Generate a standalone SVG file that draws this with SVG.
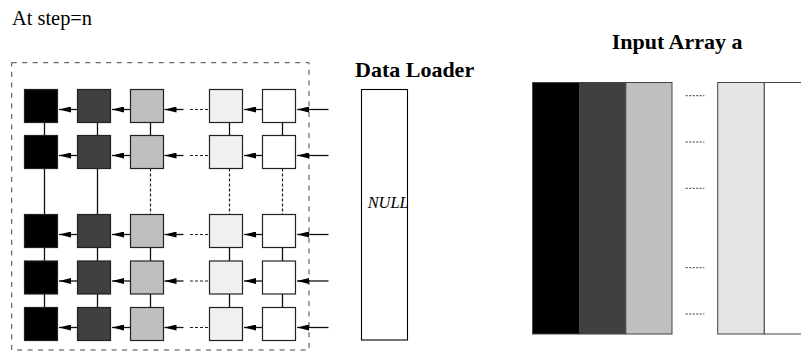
<svg xmlns="http://www.w3.org/2000/svg" width="801" height="360" viewBox="0 0 801 360">
<style>
text{font-family:"Liberation Serif","Times New Roman",serif;fill:#000}
.t{font-size:20.4px}
.b{font-size:22px;font-weight:bold}
.i{font-size:16.4px;font-style:italic}
.sq{stroke:#222;stroke-width:1.2}
.c1{fill:#000}.c2{fill:#404040}.c3{fill:#bfbfbf}.c4{fill:#f0f0f0}.c5{fill:#fff}
.v{stroke:#111;stroke-width:1.3;fill:none}
.vd{stroke:#222;stroke-width:1.2;stroke-dasharray:3,2;fill:none}
.h{stroke:#111;stroke-width:1.3;fill:none;marker-end:url(#ah)}
.hd{stroke:#222;stroke-width:1.2;stroke-dasharray:3,2;fill:none}
.ar{stroke:#444;stroke-width:1}
.dots{stroke:#333;stroke-width:1;stroke-dasharray:2,1.5}
</style>
<defs>
<marker id="ah" viewBox="0 0 12 6" refX="12" refY="3" markerWidth="12" markerHeight="6" markerUnits="userSpaceOnUse" orient="auto">
<path d="M0,0 L12,3 L0,6 Z" fill="#000"/>
</marker>
</defs>
<text class="t" x="12" y="25">At step=n</text>
<rect id="boundary" x="11.7" y="62.7" width="297.3" height="287.3" fill="none" stroke="#444" stroke-width="1" stroke-dasharray="5,5.5"/>
<g id="connectors">
<!-- vertical solid between row1-row2 -->
<path class="v" d="M44.5,122.5V135.5M97.5,122.5V135.5M150.5,122.5V135.5M229.5,122.5V135.5M282.5,122.5V135.5"/>
<!-- row2-row3 -->
<path class="v" d="M44.5,168.5V214.5M97.5,168.5V214.5"/>
<path class="vd" d="M150.5,168.5V214.5M229.5,168.5V214.5M282.5,168.5V214.5"/>
<!-- row3-row4, row4-row5 -->
<path class="v" d="M44.5,247.5V261M97.5,247.5V261M150.5,247.5V261M229.5,247.5V261M282.5,247.5V261"/>
<path class="v" d="M44.5,294V307.5M97.5,294V307.5M150.5,294V307.5M229.5,294V307.5M282.5,294V307.5"/>
<!-- horizontal arrows per row -->
<g id="row-arrows">
<path class="h" d="M77.5,109.5H59"/><path class="h" d="M130.5,109.5H112"/><path class="h" d="M183.5,109.5H164.5"/><path class="hd" d="M190,109.5H209.5"/><path class="h" d="M262.5,109.5H244"/><path class="h" d="M328.5,109.5H297"/>
<path class="h" d="M77.5,155.5H59"/><path class="h" d="M130.5,155.5H112"/><path class="h" d="M183.5,155.5H164.5"/><path class="hd" d="M190,155.5H209.5"/><path class="h" d="M262.5,155.5H244"/><path class="h" d="M328.5,155.5H297"/>
<path class="h" d="M77.5,234.5H59"/><path class="h" d="M130.5,234.5H112"/><path class="h" d="M183.5,234.5H164.5"/><path class="hd" d="M190,234.5H209.5"/><path class="h" d="M262.5,234.5H244"/><path class="h" d="M328.5,234.5H297"/>
<path class="h" d="M77.5,281H59"/><path class="h" d="M130.5,281H112"/><path class="h" d="M183.5,281H164.5"/><path class="hd" d="M190,281H209.5"/><path class="h" d="M262.5,281H244"/><path class="h" d="M328.5,281H297"/>
<path class="h" d="M77.5,327.5H59"/><path class="h" d="M130.5,327.5H112"/><path class="h" d="M183.5,327.5H164.5"/><path class="hd" d="M190,327.5H209.5"/><path class="h" d="M262.5,327.5H244"/><path class="h" d="M328.5,327.5H297"/>
</g>
</g>
<g id="grid">
<g id="row1">
<rect id="n11" class="sq c1" x="24.5" y="89.5" width="33" height="33"/>
<rect id="n12" class="sq c2" x="77.5" y="89.5" width="33" height="33"/>
<rect id="n13" class="sq c3" x="130.5" y="89.5" width="33" height="33"/>
<rect id="n14" class="sq c4" x="209.5" y="89.5" width="33" height="33"/>
<rect id="n15" class="sq c5" x="262.5" y="89.5" width="33" height="33"/>
</g>
<g id="row2">
<rect id="n21" class="sq c1" x="24.5" y="135.5" width="33" height="33"/>
<rect id="n22" class="sq c2" x="77.5" y="135.5" width="33" height="33"/>
<rect id="n23" class="sq c3" x="130.5" y="135.5" width="33" height="33"/>
<rect id="n24" class="sq c4" x="209.5" y="135.5" width="33" height="33"/>
<rect id="n25" class="sq c5" x="262.5" y="135.5" width="33" height="33"/>
</g>
<g id="row3">
<rect id="n31" class="sq c1" x="24.5" y="214.5" width="33" height="33"/>
<rect id="n32" class="sq c2" x="77.5" y="214.5" width="33" height="33"/>
<rect id="n33" class="sq c3" x="130.5" y="214.5" width="33" height="33"/>
<rect id="n34" class="sq c4" x="209.5" y="214.5" width="33" height="33"/>
<rect id="n35" class="sq c5" x="262.5" y="214.5" width="33" height="33"/>
</g>
<g id="row4">
<rect id="n41" class="sq c1" x="24.5" y="261" width="33" height="33"/>
<rect id="n42" class="sq c2" x="77.5" y="261" width="33" height="33"/>
<rect id="n43" class="sq c3" x="130.5" y="261" width="33" height="33"/>
<rect id="n44" class="sq c4" x="209.5" y="261" width="33" height="33"/>
<rect id="n45" class="sq c5" x="262.5" y="261" width="33" height="33"/>
</g>
<g id="row5">
<rect id="n51" class="sq c1" x="24.5" y="307.5" width="33" height="33"/>
<rect id="n52" class="sq c2" x="77.5" y="307.5" width="33" height="33"/>
<rect id="n53" class="sq c3" x="130.5" y="307.5" width="33" height="33"/>
<rect id="n54" class="sq c4" x="209.5" y="307.5" width="33" height="33"/>
<rect id="n55" class="sq c5" x="262.5" y="307.5" width="33" height="33"/>
</g>
</g>
<g id="data-loader">
<text class="b" x="355" y="76.5">Data Loader</text>
<rect x="361.5" y="89.5" width="46" height="250.5" fill="#fff" stroke="#000" stroke-width="1.1"/>
<text class="i" x="367.7" y="208.3">NULL</text>
</g>
<g id="input-array">
<text class="b" x="611.7" y="49.3">Input Array a</text>
<rect class="ar" x="532.5" y="82.5" width="47" height="251.5" fill="#000"/>
<rect class="ar" x="579.5" y="82.5" width="46.3" height="251.5" fill="#404040"/>
<rect class="ar" x="625.8" y="82.5" width="46.2" height="251.5" fill="#bfbfbf"/>
<rect class="ar" x="717.7" y="82.5" width="46.6" height="251.5" fill="#e5e5e5"/>
<rect class="ar" x="764.3" y="82.5" width="47" height="251.5" fill="#fff"/>
<path class="dots" d="M685.7,95.7H704.3M685.7,142H704.3M685.7,188.3H704.3M685.7,267.7H704.3M685.7,314H704.3"/>
</g>
</svg>
